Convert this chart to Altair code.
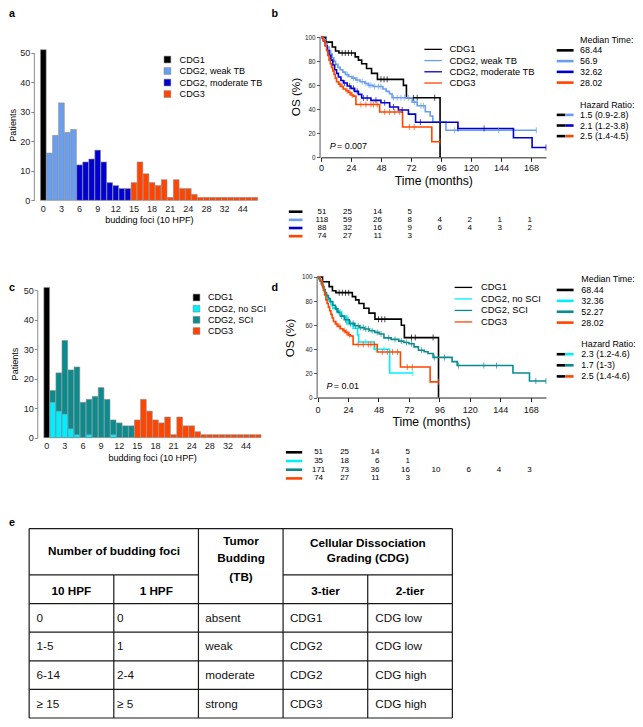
import altair as alt
import pandas as pd

# ====================== DATA ======================
# Panels a / c : patients per number of budding foci (10 HPF)
foci = ["0", "1", "2", "3", "4", "5", "6", "7", "8", "9", "10", "11", "12", "13",
        "14", "15", "16", "17", "18", "19", "20", "21", "22", "23", "24", "25",
        "27", "28", "29", "30", "32", "34", "37", "44", "46", "52"]
patients = [51, 16, 22, 33, 23, 24, 12, 13, 14, 17, 13, 6, 5, 4, 4, 6, 13, 9, 6, 5,
            7, 1, 7, 4, 4, 2, 1, 1, 1, 1, 1, 1, 1, 1, 1, 1]
tb_group = ["CDG1"] + ["CDG2, weak TB"] * 5 + ["CDG2, moderate TB"] * 9 + ["CDG3"] * 21
no_sci = [0, 12, 9, 8, 3, 1, 0, 1, 0, 0, 0, 1, 0, 0, 0, 0, 0, 0, 0, 0, 0, 0, 0, 0,
          0, 0, 0, 0, 0, 0, 0, 0, 0, 0, 0, 0]
sci_group = ["CDG1"] + ["CDG2, SCI"] * 14 + ["CDG3"] * 21
foci_ticks = ["0", "3", "6", "9", "12", "15", "18", "21", "24", "28", "32", "44"]
patient_ticks = [0, 10, 20, 30, 40, 50]

tb_names = ["CDG1", "CDG2, weak TB", "CDG2, moderate TB", "CDG3"]
sci_names = ["CDG1", "CDG2, no SCI", "CDG2, SCI", "CDG3"]

# Kaplan-Meier step curves (months, OS %)
cdg1_t = [0, 3.9, 9.1, 11.7, 14.4, 27.4, 30.0, 32.6, 36.5, 40.5, 45.2, 66.0, 68.4, 95.3]
cdg1_s = [100, 96, 92, 88.6, 87, 83.7, 81, 78, 74, 70, 65, 60, 49.7, 0]
cdg1_c = [17, 19.5, 22, 24.5, 48, 50.5, 53, 74, 77, 91]

weak_t = [0, 1.8, 3.4, 5.0, 6.5, 7.8, 9.1, 10.4, 11.7, 13.6, 15.4, 17.5, 19.6, 22.2, 24.8,
          27.9, 31.3, 35.2, 37.8, 41.8, 49.6, 52.2, 54.8, 56.9, 73.0, 77.0, 83.5, 87.4,
          89.5, 100.0, 172.3]
weak_s = [100, 98, 95, 92, 89, 86, 83, 80, 77.5, 75, 73, 71, 69, 67.4, 66, 64.5, 63, 61.5,
          60, 59, 57, 55, 53, 49.7, 46, 43, 38, 34.5, 29.5, 22.6, 22.6]
weak_c = [21, 26, 29, 33, 36, 38.5, 40, 43, 46, 48, 58, 61, 64, 67, 70, 75, 80, 82, 107, 142, 172.3]

mod_t = [0, 2, 3.5, 5, 6.5, 8, 9.5, 11, 12.5, 14, 16, 18, 21, 24, 27, 30, 32.6, 40, 48, 55,
         62, 70, 75.7, 109.6, 154, 168.9, 180]
mod_s = [100, 97, 93, 89, 85, 81, 77, 73, 70, 67, 64, 62, 59.5, 57.5, 55, 52.5, 49.5, 47.5,
         45.5, 42, 39.5, 36, 29.3, 24, 16.3, 8.2, 8.2]
mod_c = [19, 23, 26, 29, 34, 37, 44, 51, 58, 65, 79.6, 109.6, 130.5, 180]

cdg3_t = [0, 2, 3.5, 4.5, 5.5, 6.5, 7.5, 8.5, 9.5, 10.5, 11.5, 12.5, 14, 16, 18, 20, 22, 24,
          26, 28, 47, 65.3, 88.7, 95.3]
cdg3_s = [100, 97, 93, 89, 85, 81, 78, 75, 72, 69, 66, 63, 61, 59, 57, 55.5, 54, 52, 51, 44,
          37.8, 25.3, 13, 13]
cdg3_c = [15, 17.5, 21, 23, 25, 32, 36, 40, 42, 45, 51, 55, 59, 63, 70.7, 74.6, 95.3]

nosci_t = [0, 1.5, 3, 4, 5, 6, 7.5, 9, 10.5, 12, 15, 19, 23, 28, 31.5, 32.4, 44.6, 56.8, 75]
nosci_s = [100, 97.1, 94.2, 91.3, 88.4, 85.5, 82.6, 79.7, 76.8, 73.9, 70.8, 67.5, 61, 57.5,
           52, 46, 40, 20.3, 20.3]
nosci_c = [18, 26, 38, 46, 52.4, 75]

sci_t = [0, 1, 2, 3, 4, 5, 6, 7, 8.5, 10, 12, 14, 16, 18, 21, 25, 29, 33, 37, 41, 45, 48.5,
         52.3, 58, 64, 68, 72, 76, 79.5, 84, 87, 91, 106, 110, 154, 167, 180]
sci_s = [100, 98.5, 96.5, 94.5, 92, 89.5, 87, 84.5, 82, 79.5, 76.5, 73.5, 70.5, 67.5, 64.5,
         61.5, 59.5, 58, 56.8, 55.4, 54, 52.7, 49.5, 48.2, 46.8, 45.7, 44.6, 42, 39.2, 38,
         36.5, 33.3, 29.8, 26.6, 20.4, 13.7, 13.7]
sci_c = [15, 17, 19, 22, 24, 26, 28, 30, 32, 34, 36, 38, 40, 43, 47, 50, 56, 61, 66, 70, 74,
         82, 92, 100, 111, 131, 141, 172, 180]

time_ticks = [0, 24, 48, 72, 96, 120, 144, 168]
os_ticks = [0, 20, 40, 60, 80, 100]
risk_times = [0, 24, 48, 72, 96, 120, 144, 168]

median_b = ["68.44", "56.9", "32.62", "28.02"]
hazard_b = ["1.5 (0.9-2.8)", "2.1 (1.2-3.8)", "2.5 (1.4-4.5)"]
p_b = "= 0.007"
risk_b = [[51, 25, 14, 5], [118, 59, 26, 8, 4, 2, 1, 1], [88, 32, 16, 9, 6, 4, 3, 2],
          [74, 27, 11, 3]]

median_d = ["68.44", "32.36", "52.27", "28.02"]
hazard_d = ["2.3 (1.2-4.6)", "1.7 (1-3)", "2.5 (1.4-4.6)"]
p_d = "= 0.01"
risk_d = [[51, 25, 14, 5], [35, 18, 6, 1], [171, 73, 36, 16, 10, 6, 4, 3], [74, 27, 11, 3]]

# Panel e table
table_header = ["Number of budding foci", "Tumor", "Budding", "(TB)", "Cellular Dissociation",
                "Grading (CDG)", "10 HPF", "1 HPF", "3-tier", "2-tier"]
table_body = [["0", "0", "absent", "CDG1", "CDG low"],
              ["1-5", "1", "weak", "CDG2", "CDG low"],
              ["6-14", "2-4", "moderate", "CDG2", "CDG high"],
              ["\u2265 15", "\u2265 5", "strong", "CDG3", "CDG high"]]

# ====================== STYLE / LAYOUT ======================
COL = {"CDG1": "#000000", "CDG2, weak TB": "#6A9EEE", "CDG2, moderate TB": "#0000D0",
       "CDG3": "#FF4500", "CDG2, no SCI": "#00EEFF", "CDG2, SCI": "#0A8C8E"}
FONT = "Liberation Sans"
W, H = 627, 711
SX, SY = W / 643, H / 727
FS = (SX + SY) / 2


def X(r):
    return round(r * SX, 2)


def Y(r):
    return round(r * SY, 2)


def one(text):
    return pd.DataFrame({"t": [text]})


def note(text, x, y, size, bold=False, italic=False, align="left", angle=0):
    return alt.Chart(one(text)).mark_text(
        align=align, baseline="middle", fontSize=size * FS, font=FONT, angle=angle,
        fontWeight="bold" if bold else "normal", fontStyle="italic" if italic else "normal",
        color="#000000"
    ).encode(text="t:N", x=alt.value(X(x)), y=alt.value(Y(y)))


def cscale(names):
    return alt.Scale(domain=names, range=[COL[n] for n in names])


def rows_scale(y0, y1, n):
    return alt.Scale(domain=[0, n - 1], range=[Y(y0), Y(y1)])


layers = []

# panel letters
for txt, x, y in [("a", 4, 6.5), ("b", 273.5, 6.5), ("c", 4, 286), ("d", 273.5, 286), ("e", 4, 527)]:
    layers.append(note(txt, x, y, 11, bold=True, align="center"))


# ---------------- bar panels ----------------
def bar_panel(groups, names, dx, y0, y50, legend_xy, legend_rows, xtitle_xy, ytitle_xy,
              overlay=False):
    cat = alt.Scale(domain=foci, range=[X(33.3 + dx), X(256 + dx)], paddingInner=0.06,
                    paddingOuter=0)
    ys = alt.Scale(domain=[0, 50], range=[Y(y0), Y(y50)])
    df = pd.DataFrame({"foci": foci, "n": patients, "grp": groups})
    out = []
    out.append(alt.Chart(df).mark_bar(stroke="#8c8c8c", strokeWidth=0.6).encode(
        x=alt.X("foci:N", scale=cat, axis=alt.Axis(
            orient="bottom", offset=Y(y0 + 4.3) - H, values=foci_ticks, ticks=False, tickSize=0,
            domain=False, labelPadding=0, labelAngle=0, labelFontSize=9.3 * FS,
            labelColor="#222222", title=None, labelOverlap=False, labelFont=FONT)),
        y=alt.Y("n:Q", scale=ys, axis=alt.Axis(
            orient="left", offset=-X(26.5 + dx), values=patient_ticks, tickSize=3, labelPadding=1,
            labelFontSize=9.3 * FS, domainColor="#8a8a8a", tickColor="#8a8a8a",
            labelColor="#222222", title=None, grid=False, labelFont=FONT)),
        color=alt.Color("grp:N", scale=cscale(names), legend=None)))
    if overlay:
        dfo = pd.DataFrame({"foci": foci, "n": no_sci, "grp": ["CDG2, no SCI"] * len(foci)})
        dfo = dfo[dfo["n"] > 0]
        out.append(alt.Chart(dfo).mark_bar(stroke="#8c8c8c", strokeWidth=0.6).encode(
            x=alt.X("foci:N", scale=cat, axis=None),
            y=alt.Y("n:Q", scale=ys, axis=None),
            color=alt.Color("grp:N", scale=cscale(["CDG2, no SCI"]), legend=None)))
    leg = pd.DataFrame({"grp": names, "row": list(range(len(names)))})
    rs = rows_scale(legend_rows[0], legend_rows[1], len(names))
    out.append(alt.Chart(leg).mark_square(size=46, opacity=1, stroke="#7a7a7a",
                                          strokeWidth=0.5).encode(
        x=alt.value(X(legend_xy[0])), y=alt.Y("row:Q", scale=rs, axis=None),
        color=alt.Color("grp:N", scale=cscale(names), legend=None)))
    out.append(alt.Chart(leg).mark_text(align="left", baseline="middle", fontSize=9.3 * FS,
                                        font=FONT, color="#000000").encode(
        x=alt.value(X(legend_xy[1])), y=alt.Y("row:Q", scale=rs, axis=None), text="grp:N"))
    out.append(note("budding foci (10 HPF)", xtitle_xy[0], xtitle_xy[1], 9.3, align="center"))
    out.append(note("Patients", ytitle_xy[0], ytitle_xy[1], 9.3, align="center", angle=270))
    return out


layers += bar_panel(tb_group, tb_names, 0, 196.7, 45.7, (163.5, 176), (52.7, 88),
                    (145, 217), (5.5, 120))
layers += bar_panel(sci_group, sci_names, 3.5, 439.3, 288.8, (193.3, 205), (296, 330.3),
                    (148.3, 460), (7.5, 364), overlay=True)


# ---------------- KM panels ----------------
def surv_at(ts, ss, t):
    v = ss[0]
    for ti, si in zip(ts, ss):
        if ti <= t:
            v = si
    return v


def km_panel(curves, names, median, hazard, pval, risk, L):
    xs = alt.Scale(domain=[0, 180], range=[X(L["x0"]), X(L["x1"])])
    ys = alt.Scale(domain=[0, 100], range=[Y(L["y0"]), Y(L["y100"])])
    cs = cscale(names)
    rows, cens = [], []
    for name, (ts, ss, cc) in zip(names, curves):
        for t, s in zip(ts, ss):
            rows.append({"grp": name, "t": t, "s": s})
        for c in cc:
            cens.append({"grp": name, "t": c, "s": surv_at(ts, ss, c)})
    df, dfc = pd.DataFrame(rows), pd.DataFrame(cens)
    out = []
    out.append(alt.Chart(df).mark_line(interpolate="step-after", strokeWidth=1.6).encode(
        x=alt.X("t:Q", scale=xs, axis=alt.Axis(
            orient="bottom", offset=Y(L["y0"]) - H, values=time_ticks, tickSize=4,
            labelPadding=L["xpad"], labelFontSize=9.3 * FS, domainColor="#222222",
            tickColor="#222222", labelColor="#111111", title=None, grid=False,
            labelFlush=False, labelOverlap=False, labelFont=FONT)),
        y=alt.Y("s:Q", scale=ys, axis=alt.Axis(
            orient="left", offset=-X(L["yaxis"]), values=os_ticks, tickSize=3, labelPadding=1.5,
            labelFontSize=6.5 * FS, domainColor="#555555", tickColor="#555555",
            labelColor="#222222", title=None, grid=False, labelFlush=False, labelOverlap=False,
            labelFont=FONT)),
        color=alt.Color("grp:N", scale=cs, legend=None),
        order=alt.Order("t:Q")))
    out.append(alt.Chart(dfc).mark_tick(orient="vertical", size=6, thickness=1).encode(
        x=alt.X("t:Q", scale=xs, axis=None), y=alt.Y("s:Q", scale=ys, axis=None),
        color=alt.Color("grp:N", scale=cs, legend=None)))
    # in-plot legend
    leg = pd.DataFrame({"grp": names, "row": list(range(4))})
    rs = rows_scale(L["leg_rows"][0], L["leg_rows"][1], 4)
    out.append(alt.Chart(leg).mark_rule(strokeWidth=1.3).encode(
        x=alt.value(X(L["leg_x"][0])), x2=alt.value(X(L["leg_x"][1])),
        y=alt.Y("row:Q", scale=rs, axis=None), color=alt.Color("grp:N", scale=cs, legend=None)))
    out.append(alt.Chart(leg).mark_text(align="left", baseline="middle", fontSize=9.6 * FS,
                                        font=FONT, color="#000000").encode(
        x=alt.value(X(L["leg_x"][2])), y=alt.Y("row:Q", scale=rs, axis=None), text="grp:N"))
    # median time
    med = pd.DataFrame({"grp": names, "row": list(range(4)), "v": median})
    rm = rows_scale(L["med_rows"][0], L["med_rows"][1], 4)
    out.append(note("Median Time:", L["side_x"][2], L["med_head"], 9.1))
    out.append(alt.Chart(med).mark_rule(strokeWidth=2.6).encode(
        x=alt.value(X(L["side_x"][0])), x2=alt.value(X(L["side_x"][1])),
        y=alt.Y("row:Q", scale=rm, axis=None), color=alt.Color("grp:N", scale=cs, legend=None)))
    out.append(alt.Chart(med).mark_text(align="left", baseline="middle", fontSize=9.1 * FS,
                                        font=FONT, color="#000000").encode(
        x=alt.value(X(L["side_x"][2])), y=alt.Y("row:Q", scale=rm, axis=None), text="v:N"))
    # hazard ratios
    hz = pd.DataFrame({"grp": names[1:], "row": [0, 1, 2], "v": hazard})
    rh = rows_scale(L["haz_rows"][0], L["haz_rows"][1], 3)
    mid = (L["side_x"][0] + L["side_x"][1]) / 2
    out.append(note("Hazard Ratio:", L["side_x"][2], L["haz_head"], 9.1))
    out.append(alt.Chart(hz).mark_rule(strokeWidth=2.6, color="#000000").encode(
        x=alt.value(X(L["side_x"][0])), x2=alt.value(X(mid)),
        y=alt.Y("row:Q", scale=rh, axis=None)))
    out.append(alt.Chart(hz).mark_rule(strokeWidth=2.6).encode(
        x=alt.value(X(mid)), x2=alt.value(X(L["side_x"][1])),
        y=alt.Y("row:Q", scale=rh, axis=None), color=alt.Color("grp:N", scale=cs, legend=None)))
    out.append(alt.Chart(hz).mark_text(align="left", baseline="middle", fontSize=9.1 * FS,
                                       font=FONT, color="#000000").encode(
        x=alt.value(X(L["side_x"][2])), y=alt.Y("row:Q", scale=rh, axis=None), text="v:N"))
    # p value
    out.append(note("P", L["p_xy"][0], L["p_xy"][1], 9.2, italic=True))
    out.append(note(pval, L["p_xy"][0] + 7.3, L["p_xy"][1], 9.2))
    # risk table
    rk = []
    for i, (g, vals) in enumerate(zip(names, risk)):
        for t, n in zip(risk_times, vals):
            rk.append({"grp": g, "row": i, "t": t, "n": str(n)})
    dfr = pd.DataFrame(rk)
    rr = rows_scale(L["risk_rows"][0], L["risk_rows"][1], 4)
    out.append(alt.Chart(leg).mark_rule(strokeWidth=2.6).encode(
        x=alt.value(X(L["risk_x"][0])), x2=alt.value(X(L["risk_x"][1])),
        y=alt.Y("row:Q", scale=rr, axis=None), color=alt.Color("grp:N", scale=cs, legend=None)))
    out.append(alt.Chart(dfr).transform_filter("datum.t == 0").mark_text(
        align="center", baseline="middle", fontSize=8.2 * FS, font=FONT, color="#000000",
        dx=1).encode(x=alt.X("t:Q", scale=xs, axis=None),
                     y=alt.Y("row:Q", scale=rr, axis=None), text="n:N"))
    out.append(alt.Chart(dfr).transform_filter("datum.t > 0").mark_text(
        align="right", baseline="middle", fontSize=8.2 * FS, font=FONT, color="#000000",
        dx=1).encode(x=alt.X("t:Q", scale=xs, axis=None),
                     y=alt.Y("row:Q", scale=rr, axis=None), text="n:N"))
    out.append(note("OS (%)", L["os_xy"][0], L["os_xy"][1], 12, align="center", angle=270))
    out.append(note("Time (months)", L["time_xy"][0], L["time_xy"][1], 12.5, align="center"))
    return out


LB = dict(x0=320.9, x1=551.7, y0=152.7, y100=30, yaxis=319.5, xpad=2.6,
          leg_rows=(42.3, 76.7), leg_x=(427, 445, 452.7),
          side_x=(562.7, 580, 586.7), med_head=32.7, med_rows=(43.3, 76.3),
          haz_head=99, haz_rows=(109.3, 131), p_xy=(330, 141),
          risk_rows=(208.3, 233.3), risk_x=(288, 302), os_xy=(295, 91), time_xy=(436.7, 176.7))
LD = dict(x0=317.5, x1=551.7, y0=398.3, y100=275, yaxis=316.5, xpad=3.5,
          leg_rows=(285.7, 321), leg_x=(458, 476, 485),
          side_x=(562.7, 580, 588), med_head=276.7, med_rows=(288.3, 321.7),
          haz_head=343.3, haz_rows=(354, 376.7), p_xy=(326.7, 386.7),
          risk_rows=(454.3, 481), risk_x=(285, 301.7), os_xy=(289, 337.5), time_xy=(434.3, 423.3))

layers += km_panel([(cdg1_t, cdg1_s, cdg1_c), (weak_t, weak_s, weak_c), (mod_t, mod_s, mod_c),
                    (cdg3_t, cdg3_s, cdg3_c)], tb_names, median_b, hazard_b, p_b, risk_b, LB)
layers += km_panel([(cdg1_t, cdg1_s, cdg1_c), (nosci_t, nosci_s, nosci_c), (sci_t, sci_s, sci_c),
                    (cdg3_t, cdg3_s, cdg3_c)], sci_names, median_d, hazard_d, p_d, risk_d, LD)

# ---------------- table (panel e) ----------------
TOP_U = 6.62
tx = alt.Scale(domain=[0, 5], range=[X(21.7), X(455.7)])
ty = alt.Scale(domain=[0, TOP_U], range=[Y(726), Y(532.3)])
segs = []
for yy in [0, 1, 2, 3, 4, TOP_U]:
    segs.append({"x": 0, "x2": 5, "y": yy, "y2": yy})
segs += [{"x": 0, "x2": 2, "y": 5, "y2": 5}, {"x": 3, "x2": 5, "y": 5, "y2": 5}]
for xx, top in [(0, TOP_U), (1, 5), (2, TOP_U), (3, TOP_U), (4, 5), (5, TOP_U)]:
    segs.append({"x": xx, "x2": xx, "y": 0, "y2": top})
layers.append(alt.Chart(pd.DataFrame(segs)).mark_rule(color="#1a1a1a", strokeWidth=1.2).encode(
    x=alt.X("x:Q", scale=tx, axis=None), x2="x2:Q",
    y=alt.Y("y:Q", scale=ty, axis=None), y2="y2:Q"))

cell_dx = [7.6, 3.4, 7.0, 7.0, 7.7]
for c in range(5):
    dfc = pd.DataFrame({"txt": [row[c] for row in table_body],
                        "col": [c] * 4, "yy": [3.5 - r for r in range(4)]})
    layers.append(alt.Chart(dfc).mark_text(align="left", baseline="middle", fontSize=12 * FS,
                                           font=FONT, color="#111111", dx=cell_dx[c] * SX).encode(
        x=alt.X("col:Q", scale=tx, axis=None), y=alt.Y("yy:Q", scale=ty, axis=None),
        text="txt:N"))

header_pos = [(108.7, 555), (239, 545), (239, 562.7), (239, 581.7), (369, 546.7), (369, 562.7),
              (65, 596), (152, 596), (325.7, 596), (412.3, 596)]
for txt, (hx, hy) in zip(table_header, header_pos):
    layers.append(note(txt, hx, hy, 12, bold=True, align="center"))

chart = alt.layer(*layers).properties(
    width=W, height=H, padding=0, autosize=alt.AutoSizeParams(type="none"), background="white"
).resolve_scale(
    x="independent", y="independent", color="independent"
).configure_view(strokeWidth=0).configure_axis(labelFont=FONT, titleFont=FONT)

chart.save("out.html", embed_options={"renderer": "svg", "actions": False})
